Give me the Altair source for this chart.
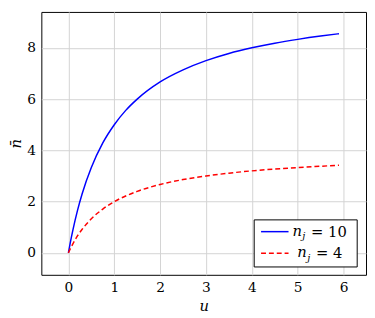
import altair as alt
import pandas as pd

u_vals = [0, 0.05, 0.1, 0.2, 0.3, 0.5, 0.75, 1.0, 1.25, 1.5, 2.0, 2.5, 3.0, 3.5, 4.0, 4.5, 5.0, 5.5, 5.9]
n10 = [0, 0.48, 0.91, 1.67, 2.31, 3.33, 4.29, 5.0, 5.56, 6.0, 6.67, 7.14, 7.5, 7.78, 8.0, 8.18, 8.33, 8.46, 8.55]
n4 = [0, 0.19, 0.36, 0.67, 0.92, 1.33, 1.71, 2.0, 2.22, 2.4, 2.67, 2.86, 3.0, 3.11, 3.2, 3.27, 3.33, 3.38, 3.42]
series_names = ["nj10", "nj4"]
x_ticks = [0, 1, 2, 3, 4, 5, 6]
y_ticks = [0, 2, 4, 6, 8]

df = pd.DataFrame({
    "u": u_vals * 2,
    "n": n10 + n4,
    "s": [series_names[0]] * len(u_vals) + [series_names[1]] * len(u_vals),
})

FONT = "DejaVu Serif"
W, H = 331, 268

xs = alt.Scale(domain=[-0.59, 6.49], nice=False, zero=False)
ys = alt.Scale(domain=[-0.855, 9.4], nice=False, zero=False)

base = alt.Chart(df).encode(
    x=alt.X("u:Q", scale=xs,
            axis=alt.Axis(values=x_ticks, title="u", format="d", labelPadding=6,
                          titlePadding=4, titleFontStyle="italic", titleFontWeight="normal",
                          titleFontSize=15, titleFont=FONT)),
    y=alt.Y("n:Q", scale=ys,
            axis=alt.Axis(values=y_ticks, title="n̄", format="d", labelPadding=6,
                          titlePadding=3, titleFontStyle="italic", titleFontWeight="normal",
                          titleFontSize=15, titleFont=FONT)),
)

blue = base.transform_filter(alt.datum.s == series_names[0]).mark_line(
    color="#0000ff", strokeWidth=1.5, interpolate="monotone")
red = base.transform_filter(alt.datum.s == series_names[1]).mark_line(
    color="#ff0000", strokeWidth=1.5, strokeDash=[5, 3], interpolate="monotone")

# legend (manual, pixel placed)
leg_df = pd.DataFrame({"k": [0]})
leg = alt.Chart(leg_df)
box = leg.mark_rect(fill="white", stroke="black", strokeWidth=1).encode(
    x=alt.value(217), x2=alt.value(322), y=alt.value(212), y2=alt.value(260))
l1 = leg.mark_rule(color="#0000ff", strokeWidth=1.5).encode(
    x=alt.value(224), x2=alt.value(252), y=alt.value(224))
l2 = leg.mark_rule(color="#ff0000", strokeWidth=1.5, strokeDash=[5, 3]).encode(
    x=alt.value(224), x2=alt.value(252), y=alt.value(246))

def txt(s, x, y, size=15, style="normal"):
    return leg.mark_text(text=s, font=FONT, fontSize=size, fontStyle=style,
                         align="left", baseline="middle", color="black").encode(
        x=alt.value(x), y=alt.value(y))

t = [
    txt("n", 256, 223, style="italic"), txt("j", 266, 229, size=10, style="italic"),
    txt("= 10", 275, 224),
    txt("n", 261, 245, style="italic"), txt("j", 271, 251, size=10, style="italic"),
    txt("= 4", 280, 246),
]

chart = alt.layer(blue, red, box, l1, l2, *t).properties(
    width=W, height=H,
    autosize=alt.AutoSizeParams(type="none"),
    padding={"left": 34, "top": 1, "right": 1, "bottom": 40},
).configure_view(stroke="black", strokeWidth=1).configure_axis(
    labelFont=FONT, labelFontSize=14, labelColor="black",
    grid=True, gridColor="#d3d3d3", gridWidth=1,
    domain=False, ticks=False, titleColor="black",
)

chart.save("out.html", embed_options={"renderer": "svg", "actions": False})
